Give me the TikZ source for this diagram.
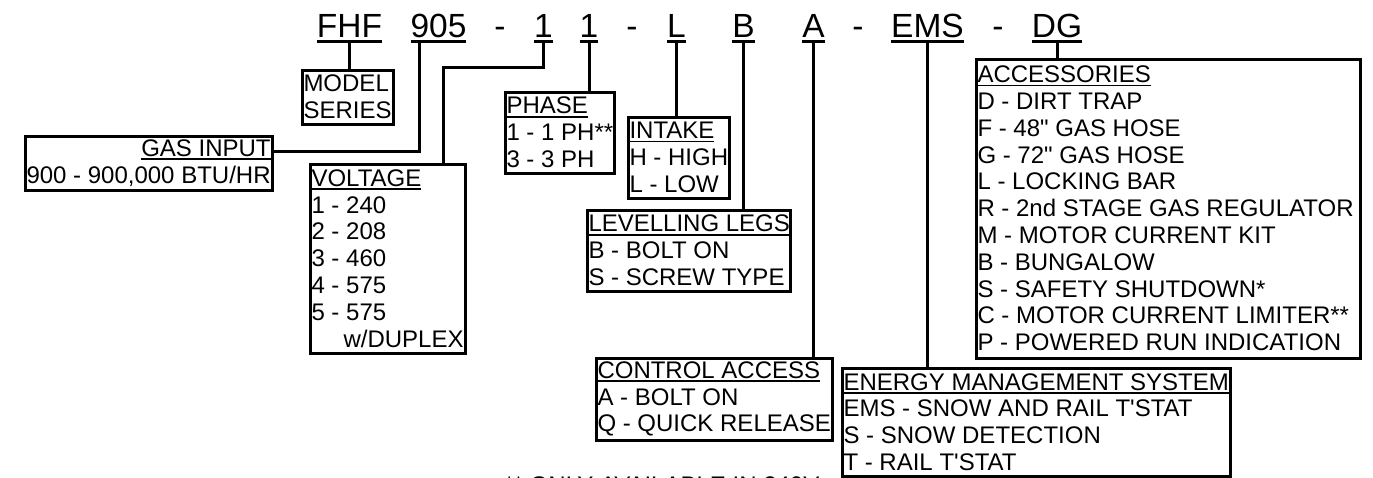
\documentclass[tikz,border=0pt]{standalone}
\usepackage{fontspec}
\newfontfamily\arial{Liberation Sans}
\usetikzlibrary{positioning}

\newcommand\codefont{\arial\fontsize{33.5}{40}\selectfont}
\newcommand\keyfont{\arial\fontsize{24}{26.8}\selectfont}
% underlined heading of a key box
\newcommand\hdr[1]{\setbox0\hbox{#1}\rlap{\rule[-3.6pt]{\wd0}{1.8pt}}\box0}
% first line sets the inner width of the box
\newcommand\boxhead[3][l]{\makebox[#2pt][#1]{#3}}

\begin{document}
\begin{tikzpicture}[x=1pt,y=-1pt,line width=3pt,
  codepart/.style={inner sep=0pt,outer sep=0pt,text depth=4pt,font=\codefont,anchor=base},
  keybox/.style={draw,anchor=north west,align=left,inner xsep=1.5pt,inner ysep=0pt,outer sep=0pt,font=\keyfont}]
\useasboundingbox (0,0) rectangle (1373,477);
\clip (0,0) rectangle (1373,477);

% model number
\node[codepart] (cser) at (349.5,37) {FHF};
\node[codepart] (cgas) at (438.5,37) {905};
\node[codepart] (d1) at (500,37) {-};
\node[codepart] (cvolt) at (543.5,37) {1};
\node[codepart] (cph) at (589,37) {1};
\node[codepart] (d2) at (632,37) {-};
\node[codepart] (cint) at (676.5,37) {L};
\node[codepart] (cleg) at (743.5,37) {B};
\node[codepart] (cacc) at (813.5,37) {A};
\node[codepart] (d3) at (858,37) {-};
\node[codepart] (cems) at (927.5,37) {EMS};
\node[codepart] (d4) at (998,37) {-};
\node[codepart] (cdg) at (1057,37) {DG};

% key boxes
\node[keybox,minimum height=54pt] (series) at (302,70) {\boxhead{86}{MODEL}\\SERIES};
\node[keybox,minimum height=54pt,align=right] (gas) at (25,136)
  {\boxhead[r]{244}{\hdr{GAS INPUT}}\\900 - 900,000 BTU/HR};
\node[keybox,minimum height=189pt] (voltage) at (310,164)
  {\boxhead{151}{\hdr{VOLTAGE}}\\1 - 240\\2 - 208\\3 - 460\\4 - 575\\5 - 575\\\hspace*{32pt}w/DUPLEX};
\node[keybox,minimum height=81pt] (phase) at (505,92)
  {\boxhead{105}{\hdr{PHASE}}\\1 - 1 PH**\\3 - 3 PH};
\node[keybox,minimum height=81pt] (intake) at (628,117)
  {\boxhead{96}{\hdr{INTAKE}}\\H - HIGH\\L - LOW};
\node[keybox,minimum height=81pt] (legs) at (587,210)
  {\boxhead{200}{\hdr{LEVELLING LEGS}}\\B - BOLT ON\\S - SCREW TYPE};
\node[keybox,minimum height=82pt] (control) at (596,358)
  {\boxhead{232}{\hdr{CONTROL ACCESS}}\\A - BOLT ON\\Q - QUICK RELEASE};
\node[keybox,minimum height=108pt] (ems) at (842,368)
  {\boxhead{385}{\hdr{ENERGY MANAGEMENT SYSTEM}}\\EMS - SNOW AND RAIL T'STAT\\S - SNOW DETECTION\\T - RAIL T'STAT};
\node[keybox,minimum height=299pt] (accessories) at (976,59)
  {\boxhead{381}{\hdr{ACCESSORIES}}\\D - DIRT TRAP\\F - 48" GAS HOSE\\G - 72" GAS HOSE\\L - LOCKING BAR
   \\R - 2nd STAGE GAS REGULATOR\\M - MOTOR CURRENT KIT\\B - BUNGALOW\\S - SAFETY SHUTDOWN*
   \\C - MOTOR CURRENT LIMITER**\\P - POWERED RUN INDICATION};
\node[font=\keyfont,anchor=base west,inner sep=0pt] (note) at (503,493) {** ONLY AVAILABLE IN 240V};

% underlines and leaders
\foreach \c in {cser,cgas,cvolt,cph,cint,cleg,cacc,cems,cdg}
  \draw (\c.south west) -- (\c.south east);
\foreach \c/\b in {cser/series,cph/phase,cint/intake,cleg/legs,cacc/control,cems/ems,cdg/accessories}
  \draw (\c.south) -- (\c.south |- \b.north);
\draw (cgas.south west) ++(9,0) |- ([yshift=12pt]gas.east);
\coordinate (vbend) at (443,67);
\draw (cvolt.south) |- (vbend) -- (vbend |- voltage.north);
\end{tikzpicture}
\end{document}
